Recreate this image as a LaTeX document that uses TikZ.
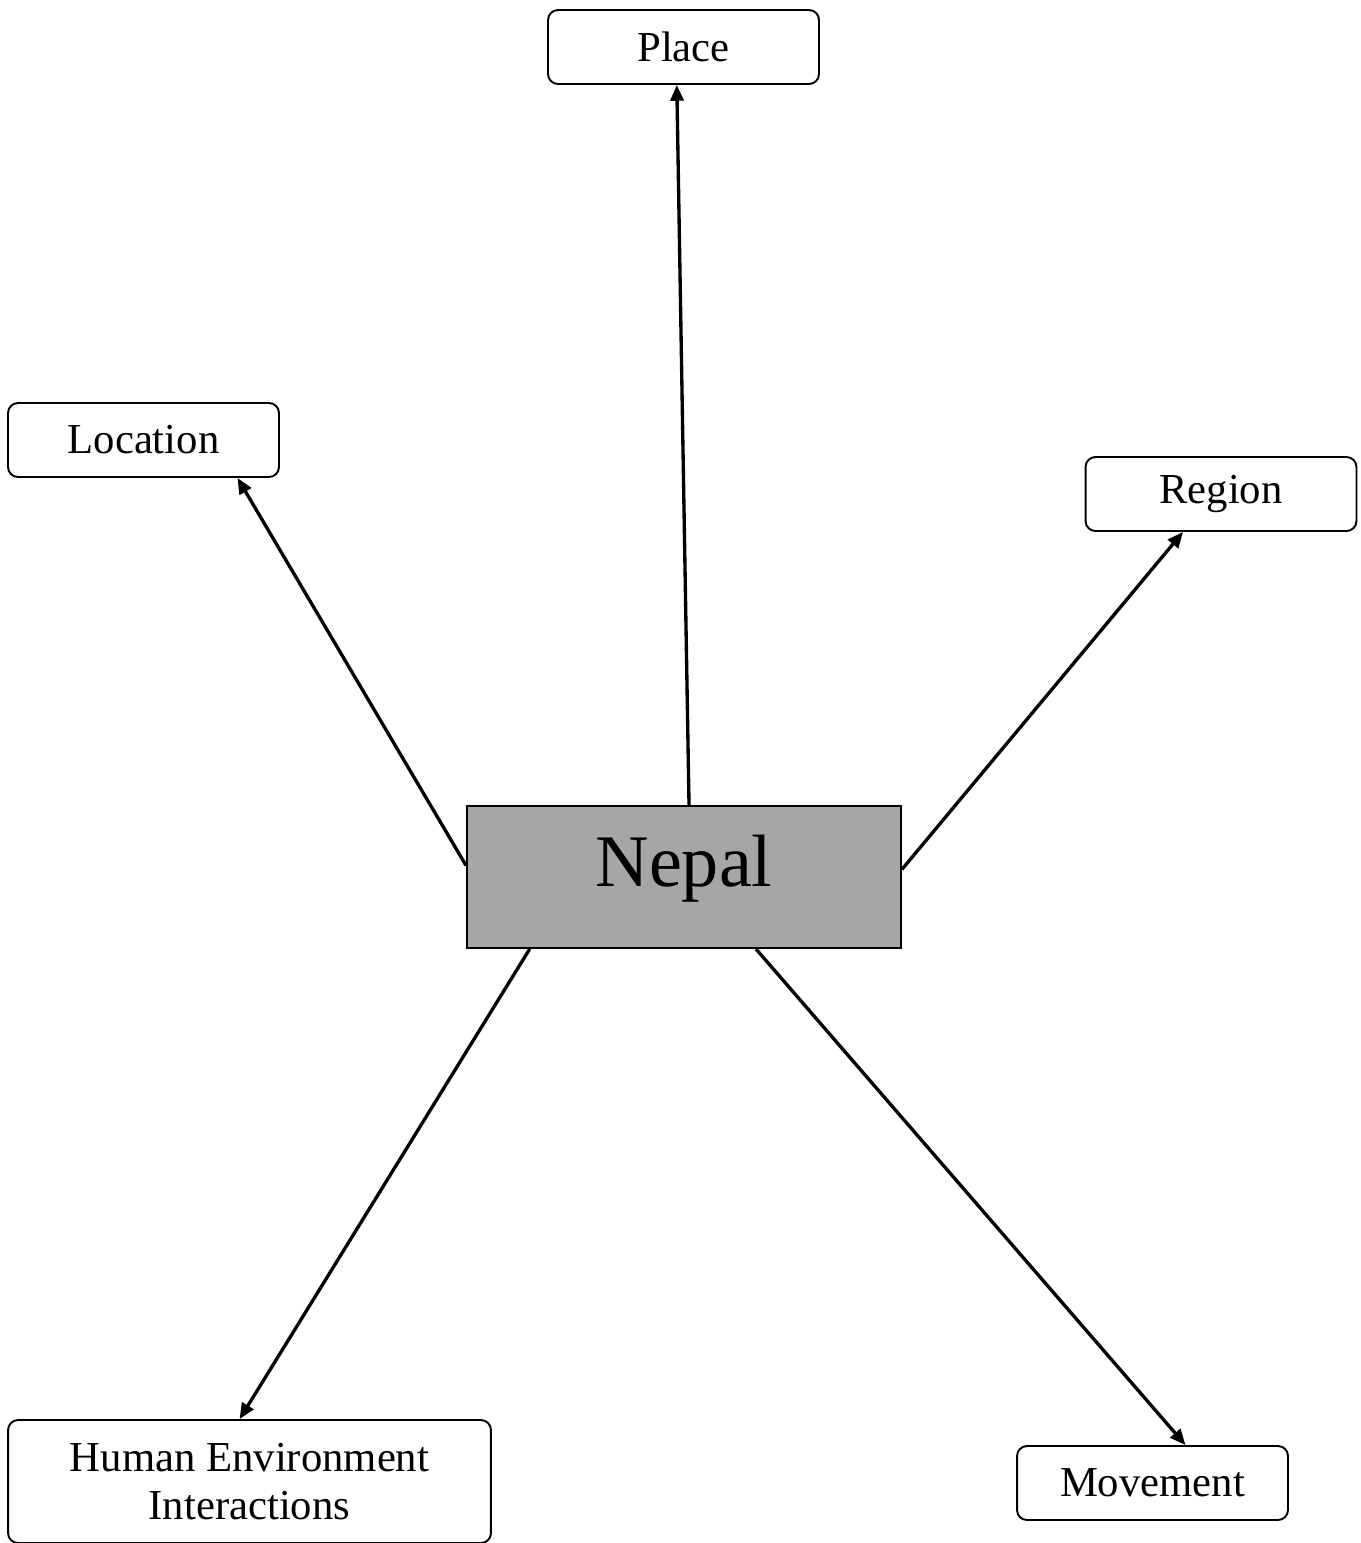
\documentclass[tikz,border=0pt]{standalone}
\usepackage{fontspec}
\setmainfont{Liberation Serif}
\usetikzlibrary{arrows.meta,positioning}
\definecolor{boxgray}{HTML}{A6A6A6}

\begin{document}
\begin{tikzpicture}[x=0.02cm,y=-0.02cm,
		theme/.style={draw, line width=1.1pt, rounded corners=0.2cm, minimum width=5.42cm, minimum height=1.48cm, inner sep=0pt, font=\fontsize{24.3}{27.2}\selectfont, align=center},
		conn/.style={line width=1.9pt, -{Triangle[length=9pt,width=7.5pt]}}]
		\useasboundingbox (0,0) rectangle (1361,1543);
		\draw (684,877) node [draw, line width=1.1pt, fill=boxgray, minimum width=8.68cm, minimum height=2.84cm] (nepal) {};
		\draw (nepal.center) ++(0,-8) node [font=\fontsize{42.2}{50}\selectfont] (nepaltext) {Nepal};
		\draw (683.5,47) node [theme] (place) {Place};
		\draw (143.5,440) node [theme] (location) {Location};
		\draw (1221,494) node [theme] (region) {Region};
		\draw (1152.5,1483) node [theme] (movement) {Movement};
		\draw (249.5,1481.5) node [theme, minimum width=9.66cm, minimum height=2.46cm] (human) {Human Environment\\Interactions};
		\draw
		(nepal.86.9) edge [conn] (place.260)
		(nepal.177.1) edge [conn] (location.338.8)
		(nepal.2.9) edge [conn] (region.225.8)
		(nepal.205.3) edge [conn] (human.99.7)
		(nepal.315.8) edge [conn] (movement.49.6);
	\end{tikzpicture}
\end{document}
